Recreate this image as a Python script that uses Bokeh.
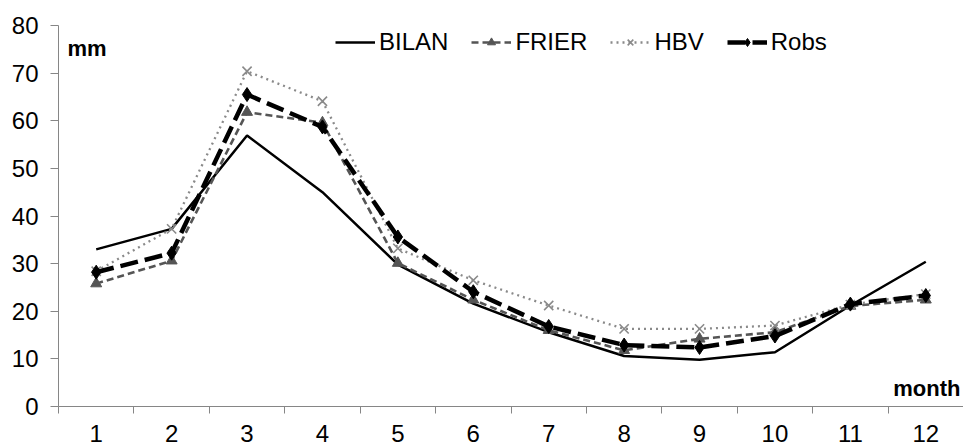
from bokeh.plotting import figure
from bokeh.models import Range1d, FixedTicker, Legend, LegendItem, Label
from bokeh.embed import file_html
from bokeh.resources import INLINE

# ---- data ----
months = list(range(1, 13))
month_labels = [str(m) for m in months]
y_ticks = [0, 10, 20, 30, 40, 50, 60, 70, 80]
bilan = [33.0, 37.3, 56.9, 45.0, 29.8, 21.6, 15.6, 10.6, 9.8, 11.4, 21.2, 30.4]
frier = [25.8, 30.6, 61.8, 59.6, 30.1, 22.4, 16.0, 11.8, 14.2, 15.6, 21.1, 22.4]
hbv = [28.4, 37.3, 70.4, 64.1, 33.2, 26.5, 21.2, 16.3, 16.3, 17.0, 21.4, 23.6]
robs = [28.2, 32.2, 65.5, 58.7, 35.6, 24.1, 16.8, 12.9, 12.4, 14.8, 21.5, 23.3]
series_names = ["BILAN", "FRIER", "HBV", "Robs"]

FONT = "Liberation Sans"
AXIS_COLOR = "#868686"

p = figure(width=963, height=445, output_backend="svg", toolbar_location=None,
           x_range=Range1d(0.5, 12.5), y_range=Range1d(0, 80),
           min_border=0, min_border_left=58, min_border_top=25, min_border_bottom=39,
           min_border_right=0)
p.outline_line_color = None
p.xgrid.visible = False
p.ygrid.visible = False
p.background_fill_color = "white"

# x axis: labels at category centres, ticks between categories
p.xaxis.ticker = FixedTicker(ticks=months, minor_ticks=[m - 0.5 for m in months] + [12.5])
p.xaxis.major_label_overrides = {m: lab for m, lab in zip(months, month_labels)}
p.xaxis.major_tick_line_color = None
p.xaxis.major_tick_out = 7
p.xaxis.minor_tick_out = 7
p.xaxis.minor_tick_in = 0
p.xaxis.minor_tick_line_color = AXIS_COLOR
p.xaxis.axis_line_color = AXIS_COLOR
p.xaxis.major_label_standoff = 11
p.xaxis.major_label_text_line_height = 0.9
p.xaxis.major_label_text_font = FONT
p.xaxis.major_label_text_font_size = "24px"
p.xaxis.major_label_text_color = "black"

p.yaxis.ticker = FixedTicker(ticks=y_ticks, minor_ticks=[])
p.yaxis.major_tick_out = 8
p.yaxis.major_tick_in = 0
p.yaxis.major_tick_line_color = AXIS_COLOR
p.yaxis.axis_line_color = AXIS_COLOR
p.yaxis.minor_tick_line_color = None
p.yaxis.major_label_standoff = 12
p.yaxis.major_label_text_font = FONT
p.yaxis.major_label_text_font_size = "24px"
p.yaxis.major_label_text_color = "black"

# series
l_bilan = p.line(months, bilan, line_color="black", line_width=2.5)

l_frier = p.line(months, frier, line_color="#555555", line_width=2.6, line_dash="7 4")
m_frier = p.scatter(months, frier, marker="triangle", size=11, fill_color="#555555",
                    line_color="#555555")

l_hbv = p.line(months, hbv, line_color="#8a8a8a", line_width=2.3, line_dash="2 4")
m_hbv = p.scatter(months, hbv, marker="x", size=13, line_color="#8a8a8a", line_width=1.6)

l_robs = p.line(months, robs, line_color="black", line_width=4.5, line_dash="18 7")
m_robs = p.scatter(months, robs, marker="diamond", size=14, fill_color="black",
                   line_color="black")

legend = Legend(items=[
    LegendItem(label=series_names[0], renderers=[l_bilan]),
    LegendItem(label=series_names[1], renderers=[l_frier, m_frier]),
    LegendItem(label=series_names[2], renderers=[l_hbv, m_hbv]),
    LegendItem(label=series_names[3], renderers=[l_robs, m_robs]),
], orientation="horizontal", location=(277, 350), padding=0, margin=0, spacing=23,
    glyph_width=40, glyph_height=20, label_standoff=4,
    label_text_font=FONT, label_text_font_size="24px", label_text_color="black",
    border_line_color=None, background_fill_alpha=0)
p.add_layout(legend, "center")

p.add_layout(Label(x=0.62, y=75.2, text="mm", text_font=FONT, text_font_size="22px",
                   text_color="black", text_font_style="bold",
                   text_baseline="alphabetic", text_align="left"))
p.add_layout(Label(x=12.46, y=3.8, text="month", text_font=FONT, text_font_size="22px",
                   text_color="black", text_font_style="bold",
                   text_baseline="alphabetic", text_align="right"))

open("out.html", "w").write(file_html(p, INLINE))
